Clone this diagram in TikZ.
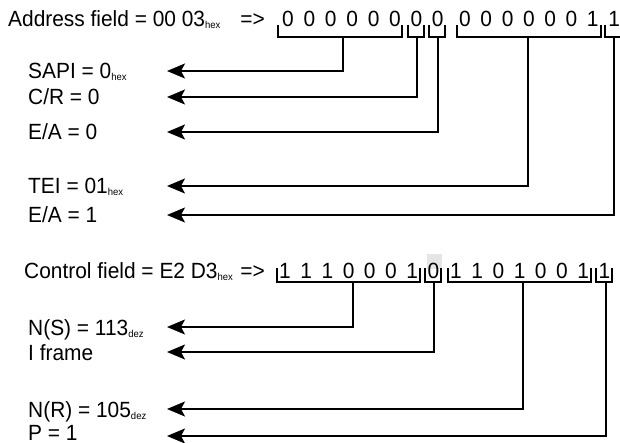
\documentclass[tikz,border=0pt]{standalone}
\usepackage{fontspec}
\setmainfont{Liberation Sans}[FakeStretch=0.95]
\usetikzlibrary{arrows.meta}

\newcommand{\lowtxt}[1]{\raisebox{-2pt}{\fontsize{10}{10}\selectfont #1}}

\tikzset{
  lbl/.style={anchor=base west, inner sep=0pt, font=\fontsize{22}{26}\selectfont},
  bit/.style={anchor=base, inner sep=0pt, font=\fontsize{22}{26}\selectfont},
  brk/.style={line width=1.4pt},
  arr/.style={line width=1.8pt, -{Stealth[length=18pt,width=15pt,inset=4pt]}}
}

\begin{document}
\begin{tikzpicture}[x=1pt, y=-1pt]
    \useasboundingbox (0,0) rectangle (620,443);

    % Address field
    \node[lbl] (addr) at (8,27) {Address field = 00 03\lowtxt{hex}};
    \node[lbl, anchor=base east] (addrTo) at (265,27) {=>};
    \foreach \d [count=\i from 0] in {0,0,0,0,0,0,0,0}
        \node[bit] (a\i) at (288+21.4*\i,27) {\d};
    \foreach \d [count=\i from 0] in {0,0,0,0,0,0,1,1}
        \node[bit] (b\i) at (465+21.3*\i,27) {\d};
    \foreach \l/\r in {278/402, 408/424, 429/445, 457/601, 605/621}
        \draw[brk] (\l,25) |- (\r,37) -- (\r,25);

    \coordinate (sapiB) at (343,37);
    \coordinate (crB) at (417,37);
    \coordinate (eaB) at (438,37);
    \coordinate (teiB) at (528,37);
    \coordinate (eaoneB) at (614,37);

    \node[lbl] (sapi) at (28,79) {SAPI = 0\lowtxt{hex}};
    \node[lbl] (cr) at (28,105) {C/R = 0};
    \node[lbl] (ea) at (28,140) {E/A = 0};
    \node[lbl] (tei) at (28,194) {TEI = 01\lowtxt{hex}};
    \node[lbl] (eaone) at (28,223) {E/A = 1};

    \coordinate (sapiT) at (167,71);
    \coordinate (crT) at (167,97);
    \coordinate (eaT) at (167,132);
    \coordinate (teiT) at (167,186);
    \coordinate (eaoneT) at (167,215);

    \draw[arr] (sapiB) |- (sapiT);
    \draw[arr] (crB) |- (crT);
    \draw[arr] (eaB) |- (eaT);
    \draw[arr] (teiB) |- (teiT);
    \draw[arr] (eaoneB) |- (eaoneT);

    % Control field
    \fill[gray!20] (427,254) rectangle (442,269);
    \node[lbl] (ctrl) at (24,278) {Control field = E2 D3\lowtxt{hex}};
    \node[lbl, anchor=base east] (ctrlTo) at (265,278) {=>};
    \foreach \d [count=\i from 0] in {1,1,1,0,0,0,1,0}
        \node[bit] (c\i) at (285+21.2*\i,278) {\d};
    \foreach \d [count=\i from 0] in {1,1,0,1,0,0,1,1}
        \node[bit] (d\i) at (456+21.2*\i,278) {\d};
    \foreach \l/\r in {277/420, 425/441, 448/591, 596/612}
        \draw[brk] (\l,268) |- (\r,282) -- (\r,268);

    \coordinate (nsB) at (353,282);
    \coordinate (ifB) at (434,282);
    \coordinate (nrB) at (523,282);
    \coordinate (pB) at (606,282);

    \node[lbl] (ns) at (28,335) {N(S) = 113\lowtxt{dez}};
    \node[lbl] (ifr) at (28,360) {I frame};
    \node[lbl] (nr) at (28,417) {N(R) = 105\lowtxt{dez}};
    \node[lbl] (pbit) at (28,440) {P = 1};

    \coordinate (nsT) at (167,327);
    \coordinate (ifT) at (167,352);
    \coordinate (nrT) at (167,409);
    \coordinate (pT) at (167,436);

    \draw[arr] (nsB) |- (nsT);
    \draw[arr] (ifB) |- (ifT);
    \draw[arr] (nrB) |- (nrT);
    \draw[arr] (pB) |- (pT);
\end{tikzpicture}
\end{document}
